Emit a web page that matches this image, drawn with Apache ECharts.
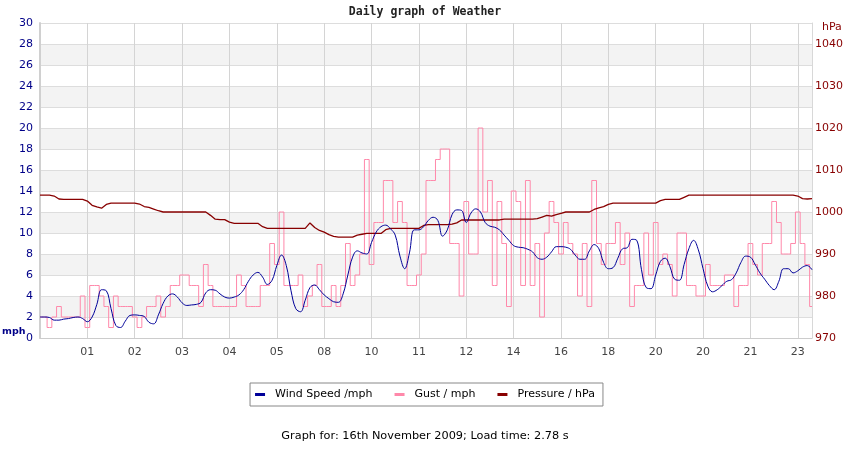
<!DOCTYPE html>
<html lang="en">
<head>
<meta charset="UTF-8">
<title>Daily graph of Weather</title>
<script src="https://cdn.jsdelivr.net/npm/echarts@6/dist/echarts.min.js"></script>
<style>html, body { margin: 0; padding: 0; background: #fff; }</style>
</head>
<body>
<div id="chart" style="width:850px;height:450px"></div>
<script type="text/javascript">
// hour labels shown under every 10th sample
var hourLabels = ['01', '02', '03', '04', '05', '08', '10', '11', '12', '14', '16', '18', '20', '20', '21', '23'];

var windSpeed = [
    2.0, 2.0, 1.95, 1.7, 1.7, 1.8, 1.85, 1.95, 2.0, 1.85,
    1.55, 2.0, 3.2, 4.6, 4.5, 2.8, 1.2, 1.0, 1.6, 2.15,
    2.2, 2.15, 2.05, 1.5, 1.35, 2.2, 3.3, 4.0, 4.2, 3.9,
    3.35, 3.1, 3.15, 3.2, 3.4, 4.3, 4.6, 4.55, 4.2, 3.9,
    3.8, 3.9, 4.1, 4.6, 5.4, 6.0, 6.25, 5.8, 5.1, 5.5,
    6.9, 7.9, 6.9, 4.5, 2.8, 2.5, 3.6, 4.8, 5.05, 4.6,
    4.1, 3.75, 3.45, 3.4, 4.2, 6.0, 7.7, 8.3, 8.1, 8.0,
    9.1, 10.1, 10.6, 10.75, 10.4, 9.8, 7.8, 6.6, 8.1, 10.3,
    10.3, 10.6, 11.2, 11.5, 11.2, 9.7, 10.3, 11.75, 12.2, 12.15,
    11.0, 11.9, 12.3, 12.0, 11.0, 10.65, 10.55, 10.3, 9.8, 9.3,
    8.8, 8.65, 8.6, 8.45, 8.2, 7.65, 7.5, 7.7, 8.2, 8.7,
    8.7, 8.65, 8.45, 7.9, 7.5, 7.5, 8.3, 8.9, 8.5, 7.2,
    6.6, 6.7, 7.6, 8.5, 8.6, 9.4, 9.3, 6.5, 4.8, 4.7,
    6.0, 7.3, 7.6, 6.8, 5.6, 5.5, 7.0, 8.5, 9.3, 8.4,
    6.6, 4.95, 4.4, 4.6, 5.0, 5.4, 5.55, 6.2, 7.2, 7.8,
    7.7, 7.0, 6.2, 5.6, 5.0, 4.6, 5.4, 6.6, 6.6, 6.2,
    6.4, 6.75, 6.9, 6.5
];

var gust = [
    2, 2, 1, 2, 3, 2, 2, 2, 2, 4,
    1, 5, 5, 4, 3, 1, 4, 3, 3, 3,
    2, 1, 2, 3, 3, 4, 2, 3, 5, 5,
    6, 6, 5, 5, 3, 7, 5, 3, 3, 3,
    3, 3, 6, 5, 3, 3, 3, 5, 5, 9,
    7, 12, 5, 5, 5, 6, 3, 4, 5, 7,
    3, 3, 5, 3, 5, 9, 5, 6, 8, 17,
    7, 11, 11, 15, 15, 11, 13, 11, 5, 5,
    6, 8, 15, 15, 17, 18, 18, 9, 9, 4,
    13, 8, 8, 20, 12, 15, 5, 13, 9, 3,
    14, 13, 5, 15, 5, 9, 2, 10, 13, 11,
    8, 11, 9, 8, 4, 9, 3, 15, 9, 7,
    9, 9, 11, 7, 10, 3, 5, 5, 10, 6,
    11, 7, 8, 7, 4, 10, 10, 5, 5, 4,
    4, 7, 5, 5, 5, 6, 6, 3, 5, 5,
    9, 7, 6, 9, 9, 13, 11, 8, 8, 9,
    12, 9, 7, 3
];

var pressure = [
    1004.0, 1004.0, 1004.0, 1003.8, 1003.1, 1003.0, 1003.0, 1003.0, 1003.0, 1003.0,
    1002.6, 1001.6, 1001.2, 1000.9, 1001.8, 1002.1, 1002.1, 1002.1, 1002.1, 1002.1,
    1002.1, 1001.9, 1001.3, 1001.1, 1000.7, 1000.3, 1000.0, 1000.0, 1000.0, 1000.0,
    1000.0, 1000.0, 1000.0, 1000.0, 1000.0, 1000.0, 999.2, 998.3, 998.2, 998.2,
    997.6, 997.3, 997.3, 997.3, 997.3, 997.3, 997.3, 996.5, 996.1, 996.1,
    996.1, 996.1, 996.1, 996.1, 996.1, 996.1, 996.1, 997.4, 996.3, 995.6,
    995.2, 994.6, 994.2, 994.0, 994.0, 994.0, 994.0, 994.5, 994.7, 994.9,
    994.9, 994.9, 994.9, 995.8, 996.1, 996.1, 996.1, 996.1, 996.1, 996.1,
    996.1, 996.8, 997.0, 997.0, 997.0, 997.0, 997.0, 997.1, 997.4, 998.1,
    998.1, 998.1, 998.1, 998.1, 998.1, 998.1, 998.1, 998.1, 998.3, 998.3,
    998.3, 998.3, 998.3, 998.3, 998.3, 998.4, 998.8, 999.2, 999.0, 999.4,
    999.7, 1000.0, 1000.0, 1000.0, 1000.0, 1000.0, 1000.0, 1000.6, 1001.0, 1001.3,
    1001.8, 1002.1, 1002.1, 1002.1, 1002.1, 1002.1, 1002.1, 1002.1, 1002.1, 1002.1,
    1002.1, 1002.7, 1003.0, 1003.0, 1003.0, 1003.0, 1003.5, 1004.0, 1004.0, 1004.0,
    1004.0, 1004.0, 1004.0, 1004.0, 1004.0, 1004.0, 1004.0, 1004.0, 1004.0, 1004.0,
    1004.0, 1004.0, 1004.0, 1004.0, 1004.0, 1004.0, 1004.0, 1004.0, 1004.0, 1004.0,
    1003.8, 1003.2, 1003.1, 1003.2
];

var labelStep = 10;
var categories = windSpeed.map(function (v, i) {
    return (i > 0 && i % labelStep === 0) ? hourLabels[i / labelStep - 1] : '';
});
function showTick(i) {
    return i > 0 && i % labelStep === 0;
}

var chart = echarts.init(document.getElementById('chart'));
chart.setOption({
    animation: false,
    backgroundColor: '#fff',
    textStyle: { fontFamily: 'DejaVu Sans' },
    title: {
        text: 'Daily graph of Weather',
        left: 'center',
        top: 6,
        padding: 0,
        textStyle: { fontFamily: 'DejaVu Sans Mono', fontWeight: 'bold', fontSize: 11.5, color: '#222' }
    },
    legend: {
        data: ['Wind Speed /mph', 'Gust / mph', 'Pressure / hPa'],
        left: 'center',
        top: 383,
        icon: 'rect',
        itemWidth: 10,
        itemHeight: 3,
        itemGap: 22,
        borderColor: '#888',
        borderWidth: 1,
        borderRadius: 0,
        padding: [6, 8, 6, 5],
        textStyle: { fontSize: 11, color: '#000', padding: [0, 0, 0, 5] }
    },
    grid: { left: 40, right: 38, top: 23, bottom: 112 },
    xAxis: {
        type: 'category',
        data: categories,
        boundaryGap: false,
        axisLine: { lineStyle: { color: '#cccccc' } },
        axisTick: { show: false },
        axisLabel: { interval: showTick, color: '#444', fontSize: 11, margin: 9 },
        splitLine: { show: true, interval: showTick, lineStyle: { color: '#d4d4d4' } }
    },
    yAxis: [
        {
            type: 'value',
            min: 0,
            max: 30,
            interval: 2,
            axisLine: { show: true, lineStyle: { color: '#d0d0d0', width: 2 } },
            axisTick: { show: false },
            axisLabel: { color: '#000088', fontSize: 11, margin: 7 },
            splitLine: { lineStyle: { color: '#dddddd' } },
            splitArea: { show: true, areaStyle: { color: ['#ffffff', '#f3f3f3'] } }
        },
        {
            type: 'value',
            position: 'right',
            min: 970,
            max: 1045,
            interval: 10,
            axisLine: { show: true, lineStyle: { color: '#d8d8d8' } },
            axisTick: { show: false },
            axisLabel: {
                color: '#880000', fontSize: 11, margin: 3, showMaxLabel: false,
                formatter: function (v) { return v % 10 === 0 ? String(v) : ''; }
            },
            splitLine: { show: false }
        }
    ],
    graphic: [
        { type: 'text', left: 2, top: 327, style: { text: 'mph', font: 'bold 9.5px DejaVu Sans', fill: '#000088' } },
        { type: 'text', left: 822, top: 22, style: { text: 'hPa', font: '11px DejaVu Sans', fill: '#880000' } },
        {
            type: 'text', left: 'center', top: 431,
            style: { text: 'Graph for: 16th November 2009; Load time: 2.78 s', font: '11.3px DejaVu Sans', fill: '#000' }
        }
    ],
    series: [
        {
            name: 'Wind Speed /mph',
            type: 'line',
            data: windSpeed,
            showSymbol: false,
            smooth: 0.4,
            z: 4,
            itemStyle: { color: '#000099' },
            lineStyle: { color: '#000099', width: 1 }
        },
        {
            name: 'Gust / mph',
            type: 'line',
            step: 'middle',
            data: gust,
            showSymbol: false,
            z: 2,
            itemStyle: { color: '#ff88aa' },
            lineStyle: { color: '#ff88aa', width: 1 }
        },
        {
            name: 'Pressure / hPa',
            type: 'line',
            yAxisIndex: 1,
            data: pressure,
            showSymbol: false,
            z: 3,
            itemStyle: { color: '#880000' },
            lineStyle: { color: '#880000', width: 1.3 }
        }
    ]
});
</script>
</body>
</html>
